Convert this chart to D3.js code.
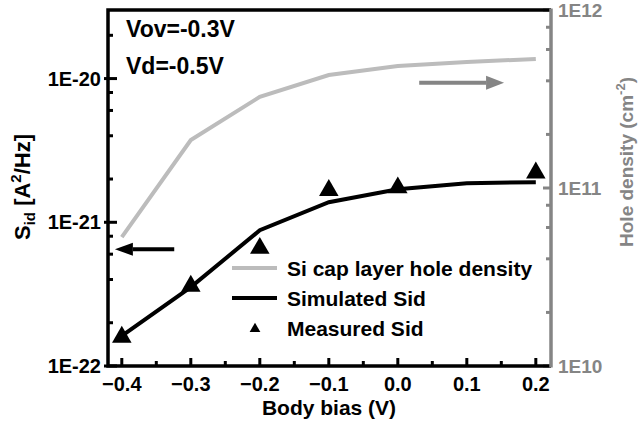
<!DOCTYPE html>
<html>
<head>
<meta charset="utf-8">
<script src="https://cdn.jsdelivr.net/npm/d3@7"></script>
<style>
  body { margin: 0; background: #fff; }
  svg text { font-family: "Liberation Sans", Arial, sans-serif; font-weight: bold; }
</style>
</head>
<body>
<div id="wrapper"></div>
<script>
// values
var bodyBias = [-0.4, -0.3, -0.2, -0.1, 0.0, 0.1, 0.2]
var holeDensity = [5.3e10, 1.86e11, 3.25e11, 4.31e11, 4.84e11, 5.11e11, 5.31e11]
var simSid = [1.62e-22, 3.54e-22, 8.8e-22, 1.38e-21, 1.70e-21, 1.87e-21, 1.90e-21]
var measBias = [-0.4, -0.3, -0.2, -0.1, 0.0, 0.2]
var measSid = [1.59e-22, 3.6e-22, 6.6e-22, 1.67e-21, 1.74e-21, 2.21e-21]

var xTicks = [-0.4, -0.3, -0.2, -0.1, 0.0, 0.1, 0.2]
var leftTicks = [1e-22, 1e-21, 1e-20]
var rightTicks = [1e10, 1e11, 1e12]

// arrows (data units): [x tail, x tip, y]
var leftArrow = [-0.324, -0.41, 6.5e-22]
var rightArrow = [0.031, 0.154, 3.9e11]

var grayAxis = "#858585"
var grayLine = "#bcbcbc"

var margin = { top: 10, right: 88, bottom: 59, left: 108 }
var width = 639 - margin.left - margin.right
var height = 425 - margin.top - margin.bottom

var svg = d3.select("#wrapper").append("svg")
    .attr("width", 639).attr("height", 425)

var bounds = svg.append("g")
    .attr("transform", "translate(" + margin.left + "," + margin.top + ")")

var xScale = d3.scaleLinear().domain([-0.42, 0.222]).range([0, width])
var yLeft = d3.scaleLog().domain([1e-22, 3e-20]).range([height, 0])
var yRight = d3.scaleLog().domain([1e10, 1e12]).range([height, 0])

function minorTicks(scale) {
    var out = []
    var d = scale.domain()
    for (var e = Math.floor(Math.log10(d[0])); e <= Math.ceil(Math.log10(d[1])); e++) {
        [2, 4, 6, 8].forEach(m => {
            var v = m * Math.pow(10, e)
            if (v >= d[0] && v <= d[1]) out.push(v)
        })
    }
    return out
}
var expFmt = v => "1E" + Math.round(Math.log10(v))

// bottom axis
var xMinor = d3.range(-0.35, 0.2, 0.1)
var xAxis = bounds.append("g").attr("transform", "translate(0," + height + ")")
xAxis.selectAll(".maj").data(xTicks).join("line")
    .attr("x1", d => xScale(d)).attr("x2", d => xScale(d))
    .attr("y1", 0).attr("y2", -8)
    .attr("stroke", "black").attr("stroke-width", 3)
xAxis.selectAll(".min").data(xMinor).join("line")
    .attr("x1", d => xScale(d)).attr("x2", d => xScale(d))
    .attr("y1", 0).attr("y2", -5)
    .attr("stroke", "black").attr("stroke-width", 3)
xAxis.selectAll("text").data(xTicks).join("text")
    .attr("x", d => xScale(d)).attr("y", 25)
    .attr("text-anchor", "middle")
    .style("font-size", "20px")
    .text(d => d3.format(".1f")(d))

// left axis
var lAxis = bounds.append("g")
lAxis.selectAll(".maj").data(leftTicks).join("line")
    .attr("x1", -4).attr("x2", 9)
    .attr("y1", d => yLeft(d)).attr("y2", d => yLeft(d))
    .attr("stroke", "black").attr("stroke-width", 3)
lAxis.selectAll(".min").data(minorTicks(yLeft)).join("line")
    .attr("x1", 0).attr("x2", 5)
    .attr("y1", d => yLeft(d)).attr("y2", d => yLeft(d))
    .attr("stroke", "black").attr("stroke-width", 3)
lAxis.selectAll("text").data(leftTicks).join("text")
    .attr("x", -7).attr("y", d => yLeft(d))
    .attr("dy", "0.36em")
    .attr("text-anchor", "end")
    .style("font-size", "20px")
    .text(expFmt)

// right axis
var rAxis = bounds.append("g").attr("transform", "translate(" + width + ",0)")
rAxis.selectAll(".maj").data(rightTicks).join("line")
    .attr("x1", 0).attr("x2", -8)
    .attr("y1", d => yRight(d)).attr("y2", d => yRight(d))
    .attr("stroke", grayAxis).attr("stroke-width", 3)
rAxis.selectAll(".min").data(minorTicks(yRight)).join("line")
    .attr("x1", 0).attr("x2", -5)
    .attr("y1", d => yRight(d)).attr("y2", d => yRight(d))
    .attr("stroke", grayAxis).attr("stroke-width", 3)
rAxis.selectAll("text").data(rightTicks).join("text")
    .attr("x", 7).attr("y", d => yRight(d))
    .attr("dy", "0.36em")
    .attr("fill", grayAxis)
    .style("font-size", "19px")
    .text(expFmt)

// frame
bounds.append("path")
    .attr("d", "M" + width + ",0H0V" + height + "H" + width)
    .attr("fill", "none").attr("stroke", "black").attr("stroke-width", 3.5)
bounds.append("line")
    .attr("x1", width).attr("x2", width).attr("y1", -1.5).attr("y2", height + 1.5)
    .attr("stroke", grayAxis).attr("stroke-width", 3.5)

// series
var holeLine = d3.line().x((d, i) => xScale(bodyBias[i])).y(d => yRight(d))
bounds.append("path")
    .attr("d", holeLine(holeDensity))
    .attr("fill", "none").attr("stroke", grayLine).attr("stroke-width", 4)

var sidLine = d3.line().x((d, i) => xScale(bodyBias[i])).y(d => yLeft(d))
bounds.append("path")
    .attr("d", sidLine(simSid))
    .attr("fill", "none").attr("stroke", "black").attr("stroke-width", 4)

var tri = d3.symbol().type(d3.symbolTriangle).size(165)
bounds.selectAll(".meas").data(measSid).join("path")
    .attr("transform", (d, i) => "translate(" + xScale(measBias[i]) + "," + yLeft(d) + ")")
    .attr("d", tri)
    .attr("fill", "black")

// arrows
function arrow(x1, x2, y, color, head, half) {
    var dir = x2 > x1 ? 1 : -1
    bounds.append("line")
        .attr("x1", x1).attr("x2", x2 - dir * head).attr("y1", y).attr("y2", y)
        .attr("stroke", color).attr("stroke-width", 4)
    bounds.append("path")
        .attr("d", "M" + x2 + "," + y + "L" + (x2 - dir * head) + "," + (y - half) +
            "L" + (x2 - dir * head) + "," + (y + half) + "Z")
        .attr("fill", color)
}
arrow(xScale(leftArrow[0]), xScale(leftArrow[1]), yLeft(leftArrow[2]), "black", 18, 6.5)
arrow(xScale(rightArrow[0]), xScale(rightArrow[1]), yRight(rightArrow[2]), grayAxis, 18, 7)

// conditions
bounds.append("text").attr("x", 18).attr("y", 27).style("font-size", "23px").text("Vov=-0.3V")
bounds.append("text").attr("x", 18).attr("y", 64).style("font-size", "23px").text("Vd=-0.5V")

// legend
var legend = bounds.append("g").attr("transform", "translate(124,258)")
var legItems = ["Si cap layer hole density", "Simulated Sid", "Measured Sid"]
legItems.forEach((t, i) => {
    var y = i * 30
    if (i < 2) {
        legend.append("line")
            .attr("x1", 0).attr("x2", 45).attr("y1", y).attr("y2", y)
            .attr("stroke", i == 0 ? grayLine : "black").attr("stroke-width", 4)
    } else {
        legend.append("path")
            .attr("transform", "translate(23," + (y + 1) + ")")
            .attr("d", d3.symbol().type(d3.symbolTriangle).size(50))
            .attr("fill", "black")
    }
    legend.append("text")
        .attr("x", 55).attr("y", y).attr("dy", "0.36em")
        .style("font-size", "21px")
        .text(t)
})

// axis titles
svg.append("text")
    .attr("x", 329).attr("y", 415)
    .attr("text-anchor", "middle")
    .style("font-size", "21px")
    .text("Body bias (V)")

var lt = svg.append("text")
    .attr("transform", "translate(30,187) rotate(-90)")
    .attr("text-anchor", "middle")
    .style("font-size", "22px")
lt.append("tspan").text("S")
lt.append("tspan").attr("dy", 5).style("font-size", "15px").text("id")
lt.append("tspan").attr("dy", -5).text(" [A")
lt.append("tspan").attr("dy", -9).style("font-size", "15px").text("2")
lt.append("tspan").attr("dy", 9).text("/Hz]")

var rt = svg.append("text")
    .attr("transform", "translate(633,162) rotate(-90)")
    .attr("text-anchor", "middle")
    .attr("fill", grayAxis)
    .style("font-size", "19px")
rt.append("tspan").text("Hole density (cm")
rt.append("tspan").attr("dy", -8).style("font-size", "13px").text("-2")
rt.append("tspan").attr("dy", 8).text(")")
</script>
</body>
</html>
